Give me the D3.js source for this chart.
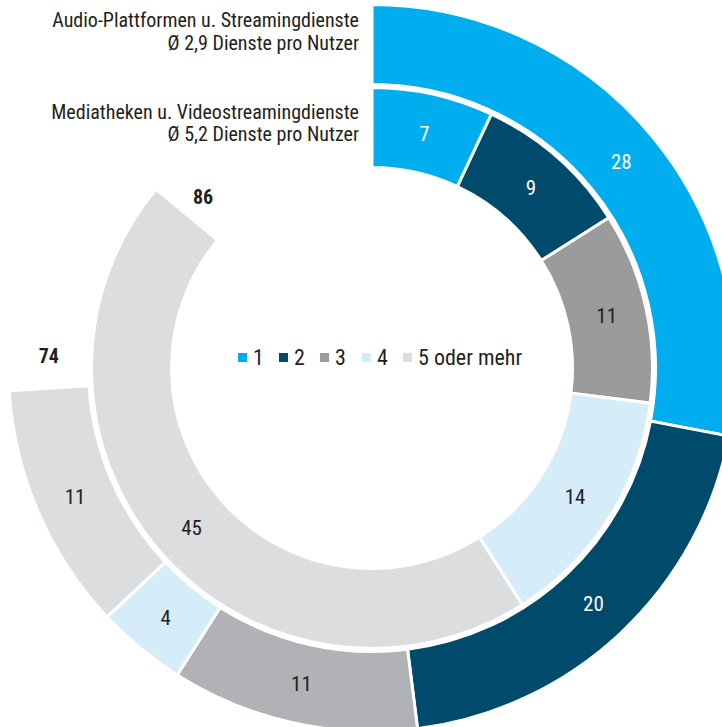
<!DOCTYPE html>
<html>
<head>
<meta charset="utf-8">
<script src="https://cdn.jsdelivr.net/npm/d3@7"></script>
<style>
  body { margin: 0; background: #fff; }
  text { font-family: "Liberation Sans Narrow", "Roboto Condensed", "Liberation Sans", sans-serif; }
</style>
</head>
<body>
<div id="chart"></div>
<script>
const categories = ["1", "2", "3", "4", "5 oder mehr"]
const audioValues = [28, 20, 11, 4, 11]   // Audio-Plattformen u. Streamingdienste (outer ring)
const videoValues = [7, 9, 11, 14, 45]    // Mediatheken u. Videostreamingdienste (inner ring)
const titleLines = [
  "Audio-Plattformen u. Streamingdienste",
  "Ø 2,9 Dienste pro Nutzer",
  "Mediatheken u. Videostreamingdienste",
  "Ø 5,2 Dienste pro Nutzer"
]

const width = 722, height = 727
const cx = 372, cy = 368
const darkText = "#231f20"

const outerColors = ["#00aeef", "#004b6b", "#b1b2b5", "#d5ecf9", "#dcdddf"]
const innerColors = ["#00aeef", "#004b6b", "#9b9b9b", "#d5ecf9", "#dcdddf"]
const whiteLabel = [true, true, false, false, false]

const angle = d3.scaleLinear().domain([0, 100]).range([0, 2 * Math.PI])

const svg = d3.select("#chart")
  .append("svg")
    .attr("width", width)
    .attr("height", height)

const g = svg.append("g")
  .attr("transform", "translate(" + cx + "," + cy + ")")

// build start / end per segment (stacked from 12 o'clock, clockwise)
function segments(values, colors) {
  let acc = 0
  return values.map((v, i) => {
    const s = { value: v, start: acc, end: acc + v, color: colors[i], i: i }
    acc += v
    return s
  })
}

const rings = [
  { data: segments(audioValues, outerColors), inner: 283.5, outer: 363.5, total: d3.sum(audioValues) },
  { data: segments(videoValues, innerColors), inner: 200.5, outer: 280.5, total: d3.sum(videoValues) }
]

rings.forEach(ring => {
  const arc = d3.arc()
    .innerRadius(ring.inner)
    .outerRadius(ring.outer)
    .startAngle(d => angle(d.start))
    .endAngle(d => angle(d.end))

  const rg = g.append("g")

  rg.selectAll("path")
    .data(ring.data)
    .enter().append("path")
      .attr("d", arc)
      .attr("fill", d => d.color)
      .attr("stroke", "#fff")
      .attr("stroke-width", 3)

  rg.selectAll("text.val")
    .data(ring.data)
    .enter().append("text")
      .attr("class", "val")
      .attr("transform", d => "translate(" + arc.centroid(d) + ")")
      .attr("text-anchor", "middle")
      .attr("dy", "0.36em")
      .style("font-size", "21px")
      .style("fill", d => whiteLabel[d.i] ? "#fff" : darkText)
      .text(d => d.value)

  // total, just past the end of the ring
  const mid = (ring.inner + ring.outer) / 2
  const a = angle(ring.total + 1.6)
  g.append("text")
    .attr("x", mid * Math.sin(a))
    .attr("y", -mid * Math.cos(a))
    .attr("dy", "0.36em")
    .attr("text-anchor", "middle")
    .style("font-size", "20px")
    .style("font-weight", "bold")
    .style("fill", darkText)
    .text(ring.total)
})

// titles, right aligned next to the start of the rings
const titleY = [27, 50, 119, 141]
svg.append("g")
  .selectAll("text")
  .data(titleLines)
  .enter().append("text")
    .attr("x", 359)
    .attr("y", (d, i) => titleY[i])
    .attr("text-anchor", "end")
    .style("font-size", "20px")
    .style("fill", darkText)
    .text(d => d)

// legend in the middle
const legendX = [238, 279, 320, 362, 403]
const legend = svg.append("g")
  .attr("transform", "translate(0, 353)")

legend.selectAll("rect")
  .data(categories)
  .enter().append("rect")
    .attr("x", (d, i) => legendX[i])
    .attr("y", 0)
    .attr("width", 9)
    .attr("height", 9)
    .attr("fill", (d, i) => innerColors[i])

legend.selectAll("text")
  .data(categories)
  .enter().append("text")
    .attr("x", (d, i) => legendX[i] + 15)
    .attr("y", 12)
    .style("font-size", "22px")
    .style("fill", darkText)
    .text(d => d)
</script>
</body>
</html>
